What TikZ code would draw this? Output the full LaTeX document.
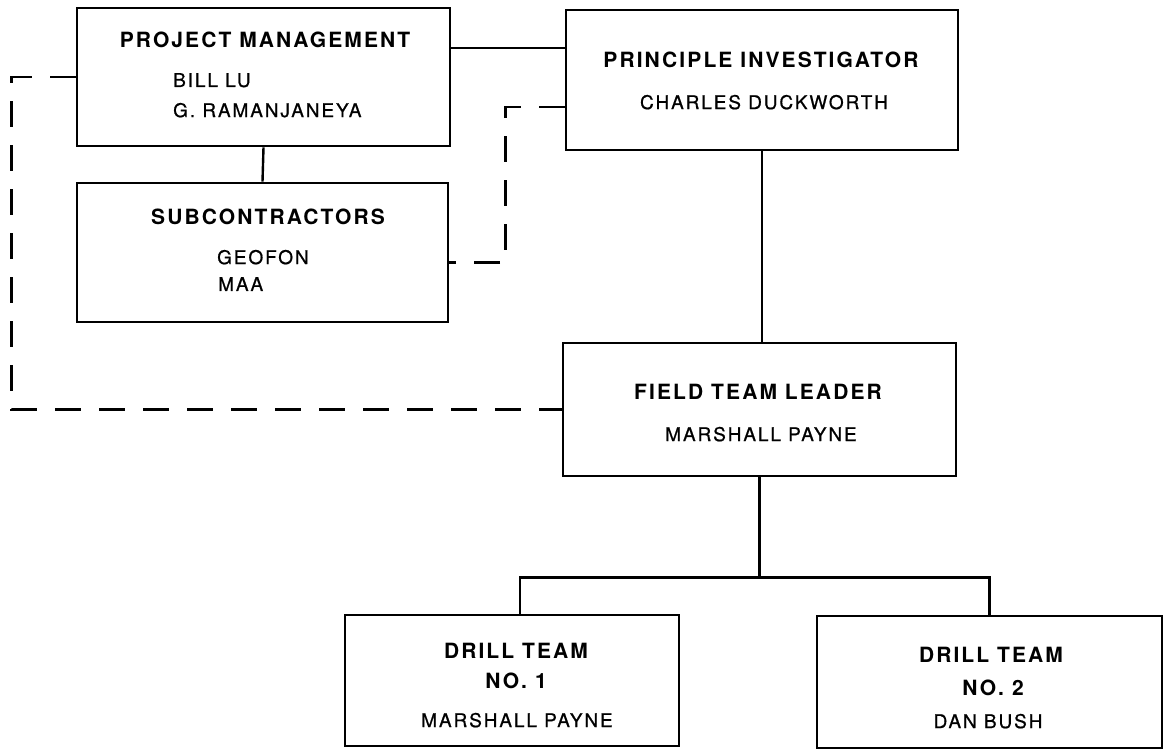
\documentclass[tikz,border=0pt]{standalone}
\usepackage{fontspec}
\newfontfamily\orgfont[LetterSpace=10]{TeX Gyre Heros}
\newfontfamily\personfont[LetterSpace=10, FakeBold=0.8]{TeX Gyre Heros}
\usetikzlibrary{positioning, calc}

\begin{document}
\begin{tikzpicture}[
    x=1pt, y=-1pt,
    box/.style={draw, rectangle, line width=2.8pt, inner sep=0pt},
    headtext/.style={font=\orgfont\fontsize{21}{25}\selectfont\bfseries, inner sep=0pt, text depth=0pt},
    persontext/.style={font=\personfont\fontsize{19}{23}\selectfont, inner sep=0pt, text depth=0pt},
    link/.style={line width=2.4pt},
    dashlink/.style={line width=2.8pt, dash pattern=on 26pt off 18pt}
]
\useasboundingbox (0,0) rectangle (1164,753);

% Top row
\node[box, minimum width=373pt, minimum height=138pt] (pm) at (263.5,77) {};
\node[box, minimum width=392pt, minimum height=140pt] (pi) at (762,80) {};
\node[box, minimum width=371pt, minimum height=139pt] (sub) at (262.5,252.5) {};

% Field level
\node[box, minimum width=393pt, minimum height=133pt] (ftl) at (759.5,409.5) {};

% Drill teams
\node[box, minimum width=334pt, minimum height=131pt] (dt1) at (512,680.5) {};
\node[box, minimum width=345pt, minimum height=132pt] (dt2) at (989.5,682) {};

% Box texts
\node[headtext] (pmtitle) at (265,40) {PROJECT MANAGEMENT};
\node[persontext, anchor=west] (pmname1) at (173,80) {BILL LU};
\node[persontext, anchor=west] (pmname2) at (173,110) {G. RAMANJANEYA};

\node[headtext] (pititle) at (761,60) {PRINCIPLE INVESTIGATOR};
\node[persontext] (piname) at (764,102) {CHARLES DUCKWORTH};

\node[headtext] (subtitle) at (268,217) {SUBCONTRACTORS};
\node[persontext, anchor=west] (subname1) at (217,257) {GEOFON};
\node[persontext, anchor=west] (subname2) at (218,284) {MAA};

\node[headtext] (ftltitle) at (758,392) {FIELD TEAM LEADER};
\node[persontext] (ftlname) at (761,434) {MARSHALL PAYNE};

\node[headtext] (dt1title) at (516,651) {DRILL TEAM};
\node[headtext] (dt1no) at (516,681) {NO. 1};
\node[persontext] (dt1name) at (517,720) {MARSHALL PAYNE};

\node[headtext] (dt2title) at (991,655) {DRILL TEAM};
\node[headtext] (dt2no) at (993,688) {NO. 2};
\node[persontext] (dt2name) at (988,721) {DAN BUSH};

% Solid lines
\draw[link] ([yshift=29pt]pm.east) coordinate (pmout) -- (pmout -| pi.west);
\draw[link] (pm.south) -- (sub.north);
\draw[link] (pi.south) -- (pi.south |- ftl.north);
\draw[link] (ftl.south) -- ++(0,100) coordinate (bus);
\draw[link] (bus) -| ([xshift=8pt]dt1.north);
\draw[link] (bus) -| (dt2.north);

% Dashed lines
\draw[dashlink] ([yshift=-27pt]pi.west) -- ++(-59,0) |- ([yshift=-10pt]sub.east);
\draw[dashlink] (pm.west) -- ++(-64,0) |- (ftl.west);
\end{tikzpicture}
\end{document}
